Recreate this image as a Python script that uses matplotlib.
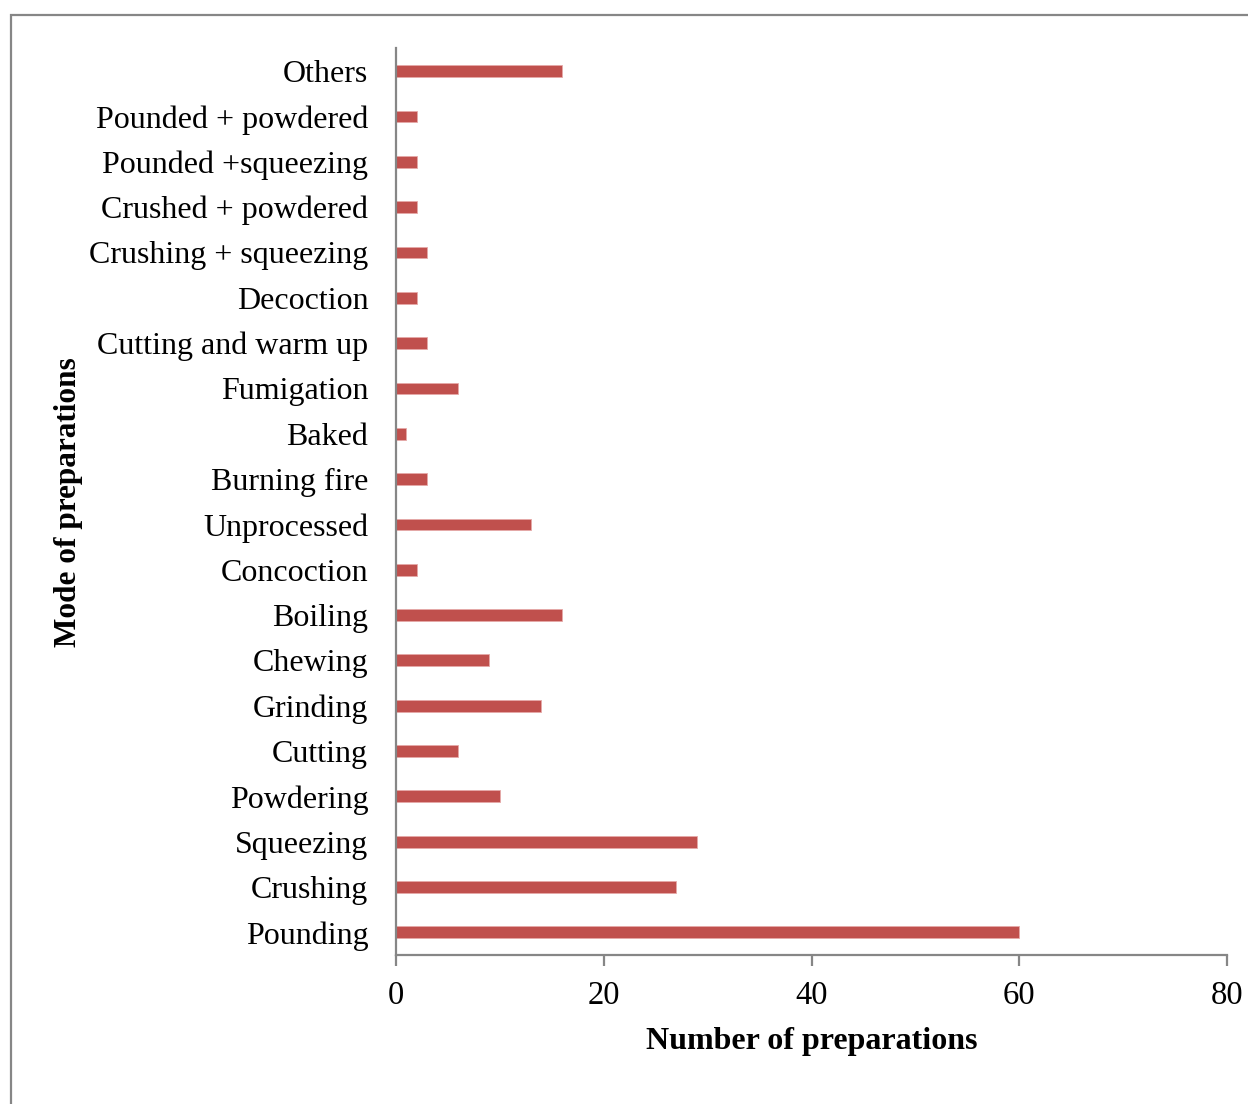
import matplotlib
matplotlib.use("Agg")
import matplotlib.pyplot as plt
from matplotlib.patches import Rectangle

# Modes of preparation (bottom to top) and their counts
modes = ["Pounding", "Crushing", "Squeezing", "Powdering", "Cutting", "Grinding",
         "Chewing", "Boiling", "Concoction", "Unprocessed", "Burning fire", "Baked",
         "Fumigation", "Cutting and warm up", "Decoction", "Crushing + squeezing",
         "Crushed + powdered", "Pounded +squeezing", "Pounded + powdered", "Others"]
counts = [60, 27, 29, 10, 6, 14, 9, 16, 2, 13, 3, 1, 6, 3, 2, 3, 2, 2, 2, 16]
xticks = [0, 20, 40, 60, 80]

plt.rcParams["font.family"] = ["Liberation Serif", "DejaVu Serif"]
axis_grey = "#868686"

fig = plt.figure(figsize=(12.48, 11.04), dpi=100)
fig.patches.append(Rectangle((11 / 1248, -0.1), 1.2, 1 - 15 / 1104 + 0.1,
                             transform=fig.transFigure, fill=False,
                             edgecolor=axis_grey, linewidth=1.6))

ax = fig.add_axes([396 / 1248, 1 - 955 / 1104, (1227 - 396) / 1248, (955 - 48.5) / 1104])
ypos = list(range(len(modes)))
ax.barh(ypos, counts, height=0.26, color="#C0504D", edgecolor="#E6A9A8", linewidth=0.6)

ax.set_xlim(0, 80)
ax.set_ylim(-0.5, len(modes) - 0.5)
ax.set_xticks(xticks)
ax.set_xticklabels([str(v) for v in xticks])
ax.set_yticks(ypos)
ax.set_yticklabels(modes)

for side in ("top", "right"):
    ax.spines[side].set_visible(False)
for side in ("left", "bottom"):
    ax.spines[side].set_color(axis_grey)
    ax.spines[side].set_linewidth(1.6)

ax.tick_params(axis="x", direction="out", length=8, width=1.6, color=axis_grey,
               labelsize=23.5, pad=10)
ax.tick_params(axis="y", length=0, labelsize=23, pad=20)

ax.set_xlabel("Number of preparations", fontsize=23, fontweight="bold", labelpad=12)
ax.set_ylabel("Mode of preparations", fontsize=22.5, fontweight="bold", labelpad=4)

fig.savefig("out.png", dpi=100, facecolor="white")
